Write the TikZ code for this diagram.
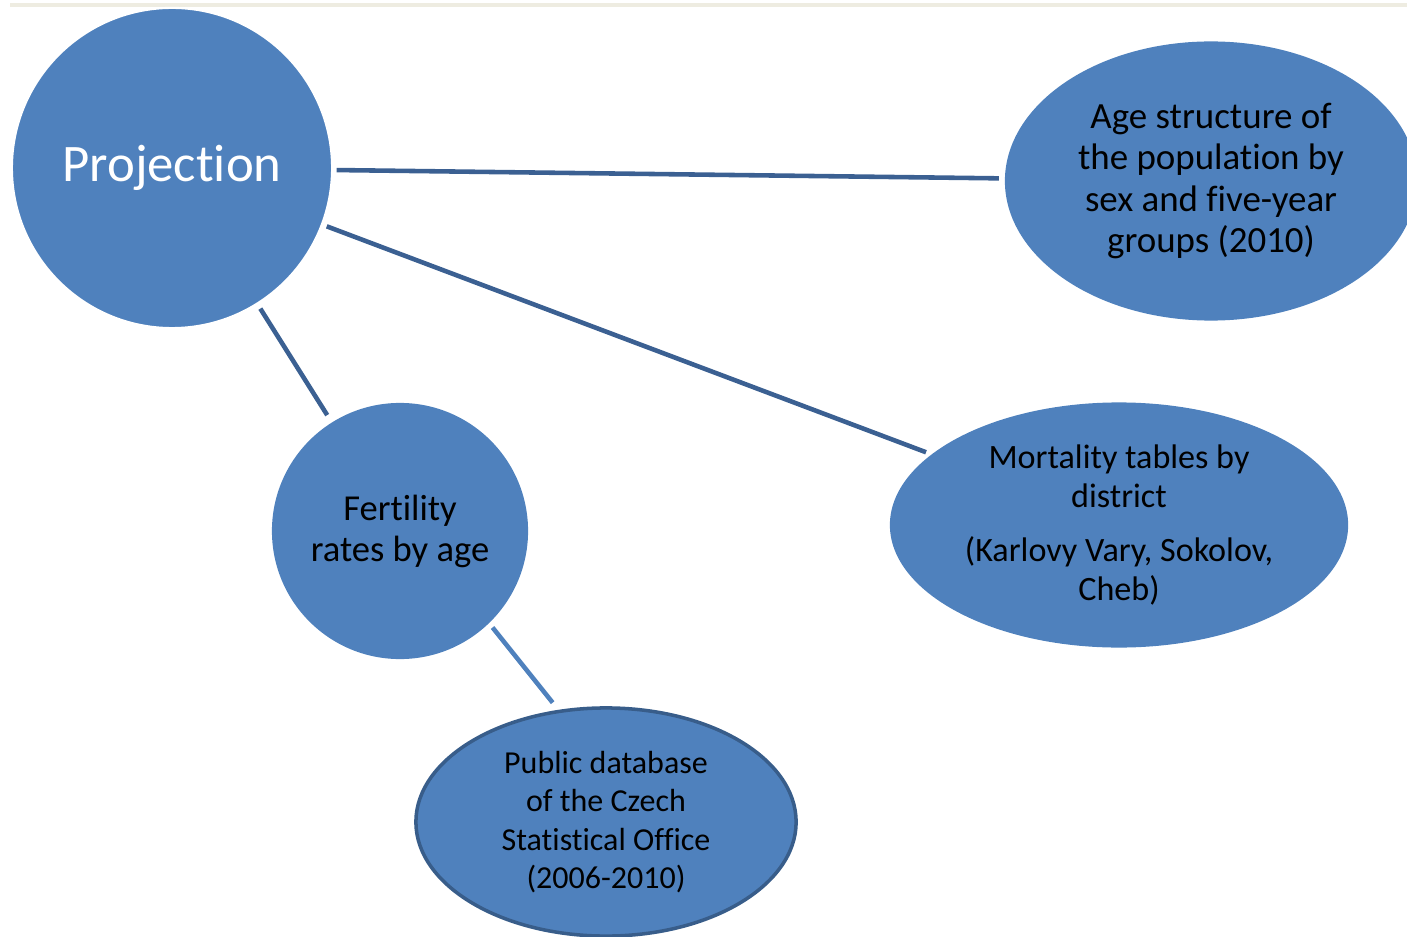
\documentclass[tikz,border=0pt]{standalone}
\usepackage{fontspec}
\setmainfont{Carlito}[Ligatures=NoCommon]
\usetikzlibrary{shapes.geometric}
\definecolor{blobblue}{HTML}{4F81BD}
\definecolor{linkblue}{HTML}{3B6092}
\definecolor{rimblue}{HTML}{385D8A}
\definecolor{rulegray}{HTML}{EEECE1}

\begin{document}
\begin{tikzpicture}[x=0.01cm, y=-0.01cm, inner sep=0pt, align=center,
  blob/.style={circle, fill=blobblue},
  oval/.style={ellipse, fill=blobblue},
  link/.style={draw=linkblue, line width=1.3pt}]
  \useasboundingbox (0,0) rectangle (1407,937);
  \draw[rulegray, line width=0.9pt] (10,5) -- (1407,5);

  \node[blob, draw=white, line width=0.6pt, minimum size=3.2cm, text=white, font=\fontsize{15}{18}\selectfont] (proj) at (172,168) {Projection};
  \node[oval, minimum width=4.12cm, minimum height=2.79cm, font=\fontsize{10.5}{11.67}\selectfont] (age) at (1211,181) {Age structure of\\the population by\\sex and five-year\\groups (2010)};
  \node[blob, minimum size=2.56cm, font=\fontsize{10.4}{11.67}\selectfont] (fert) at (400,531) {Fertility\\rates by age};
  \node[oval, minimum width=4.58cm, minimum height=2.45cm, font=\fontsize{9.7}{11.1}\selectfont] (mort) at (1119,525) {Mortality tables by\\district\\[4pt](Karlovy Vary, Sokolov,\\Cheb)};
  \node[oval, draw=rimblue, line width=1pt, minimum width=3.8cm, minimum height=2.28cm, font=\fontsize{9.1}{10.95}\selectfont] (pub) at (606,822) {Public database\\of the Czech\\Statistical Office\\(2006-2010)};

  \draw[link, shorten <=1pt, shorten >=1.5pt] (proj) -- (age);
  \draw[link, shorten <=1.2pt, shorten >=1.5pt] (proj) -- (mort);
  \draw[link, shorten <=1.4pt, shorten >=2.3pt] (proj) -- (fert);
  \draw[link, draw=blobblue, shorten <=1.4pt, shorten >=2.6pt] (fert.-46) -- (pub.113);
\end{tikzpicture}
\end{document}
